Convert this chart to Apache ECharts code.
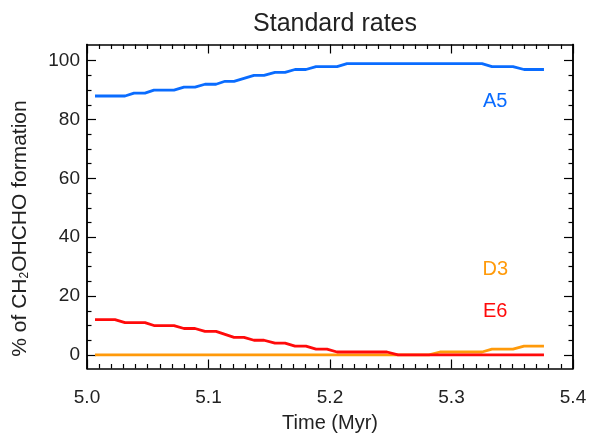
<!DOCTYPE html>
<html>
<head>
<meta charset="utf-8">
<script src="https://cdn.jsdelivr.net/npm/echarts@6/dist/echarts.min.js"></script>
<style>
html,body{margin:0;padding:0;background:#fff;}
#chart{width:590px;height:439px;}
</style>
</head>
<body>
<div id="chart"></div>
<script>
// Time (Myr)
var times = [5.0066,5.0148,5.0230,5.0313,5.0387,5.0477,5.0551,5.0634,5.0716,5.0798,
             5.0889,5.0971,5.1062,5.1136,5.1210,5.1292,5.1374,5.1457,5.1547,5.1630,
             5.1712,5.1802,5.1885,5.1975,5.2058,5.2140,5.2222,5.2305,5.2387,5.2469,
             5.2560,5.2642,5.2733,5.2815,5.2905,5.2988,5.3078,5.3160,5.3251,5.3333,
             5.3416,5.3506,5.3597,5.3679,5.3761];
// % of CH2OHCHO formation per channel
var seriesA5 = [88,88,88,88,89,89,90,90,90,91,91,92,92,93,93,94,95,95,96,96,
                97,97,98,98,98,99,99,99,99,99,99,99,99,99,99,99,99,99,99,98,
                98,98,97,97,97];
var seriesD3 = [0,0,0,0,0,0,0,0,0,0,0,0,0,0,0,0,0,0,0,0,
                0,0,0,0,0,0,0,0,0,0,0,0,0,0,1,1,1,1,1,2,
                2,2,3,3,3];
var seriesE6 = [12,12,12,11,11,11,10,10,10,9,9,8,8,7,6,6,5,5,4,4,
                3,3,2,2,1,1,1,1,1,1,0,0,0,0,0,0,0,0,0,0,
                0,0,0,0,0];
var seriesNames = ['A5','D3','E6'];
var yMajorTicks = [0,20,40,60,80,100];
var yMinorTicks = [5,10,15,25,30,35,45,50,55,65,70,75,85,90,95];
var xTickLabels = ['5.0','5.1','5.2','5.3','5.4'];

function pairs(vals){ return vals.map(function(v,i){ return [times[i], v]; }); }

var FONT = 'Liberation Sans, Arial, Helvetica, sans-serif';
var TXT = '#222';
var lineCol = '#000';

function xAx(pos, labels){
  return {
    type:'value', position:pos, min:5.0, max:5.4, interval:0.1,
    axisLine:{show:true, onZero:false, lineStyle:{color:lineCol, width:1.5}},
    axisTick:{show:true, inside:true, length:9, lineStyle:{color:lineCol, width:1.2}},
    minorTick:{show:true, splitNumber:10, length:4.5, lineStyle:{color:lineCol, width:1.2}},
    splitLine:{show:false}, minorSplitLine:{show:false},
    axisLabel:{show:labels, margin:20, fontSize:19, color:TXT, fontFamily:FONT,
      formatter:function(v){ var s=v.toFixed(1); return xTickLabels.indexOf(s)>=0?s:''; }},
    name: labels ? 'Time (Myr)' : '', nameLocation:'middle', nameGap:45,
    nameTextStyle:{fontSize:20, color:TXT, fontFamily:FONT}
  };
}
function yAx(pos, ticks, len, labels){
  var o = {
    type:'value', position:pos, min:-4.6, max:105.5, offset:0,
    axisLine:{show:true, onZero:false, lineStyle:{color:lineCol, width:1.5}},
    axisTick:{show:true, inside:true, length:len, customValues:ticks, lineStyle:{color:lineCol, width:1.2}},
    splitLine:{show:false},
    axisLabel:{show:labels, customValues:ticks, margin:7, fontSize:19, color:TXT, fontFamily:FONT}
  };
  if (labels) {
    o.name = '% of CH{s|2}OHCHO formation';
    o.nameLocation = 'middle';
    o.nameGap = 56;
    o.nameRotate = 90;
    o.nameTextStyle = {fontSize:21, color:TXT, fontFamily:FONT, padding:[0,44,0,0],
      rich:{s:{fontSize:12, color:TXT, fontFamily:FONT, verticalAlign:'bottom', padding:[8,0,0,0]}}};
  }
  return o;
}

var colors = ['#0a6cff','#ff9a0a','#ff0a0a'];
var labelPos = [[5.336,86],[5.336,29],[5.336,14.8]];
var allData = [seriesA5, seriesD3, seriesE6];

var chart = echarts.init(document.getElementById('chart'), null, {renderer:'canvas'});
chart.setOption({
  animation:false,
  backgroundColor:'#fff',
  title:{text:'Standard rates', left:330, top:7, textAlign:'center',
    textStyle:{fontSize:25, fontWeight:'normal', color:TXT, fontFamily:FONT}},
  grid:{left:87, right:17, top:44.5, bottom:70.5, containLabel:false},
  xAxis:[xAx('bottom', true), xAx('top', false)],
  yAxis:[yAx('left', yMajorTicks, 9, true), yAx('left', yMinorTicks, 4.5, false),
         yAx('right', yMajorTicks, 9, false), yAx('right', yMinorTicks, 4.5, false)],
  series: allData.map(function(d, k){
    return {
      name:seriesNames[k], type:'line', xAxisIndex:0, yAxisIndex:0,
      data:pairs(d), showSymbol:false, symbol:'none',
      lineStyle:{color:colors[k], width:2.8}, itemStyle:{color:colors[k]},
      z: 2 + k,
      markPoint:{
        symbol:'circle', symbolSize:1, itemStyle:{color:'rgba(0,0,0,0)'},
        label:{show:true, position:'inside', formatter:seriesNames[k], fontSize:20, color:colors[k], fontFamily:FONT},
        data:[{coord:labelPos[k]}]
      }
    };
  })
});
</script>
</body>
</html>
